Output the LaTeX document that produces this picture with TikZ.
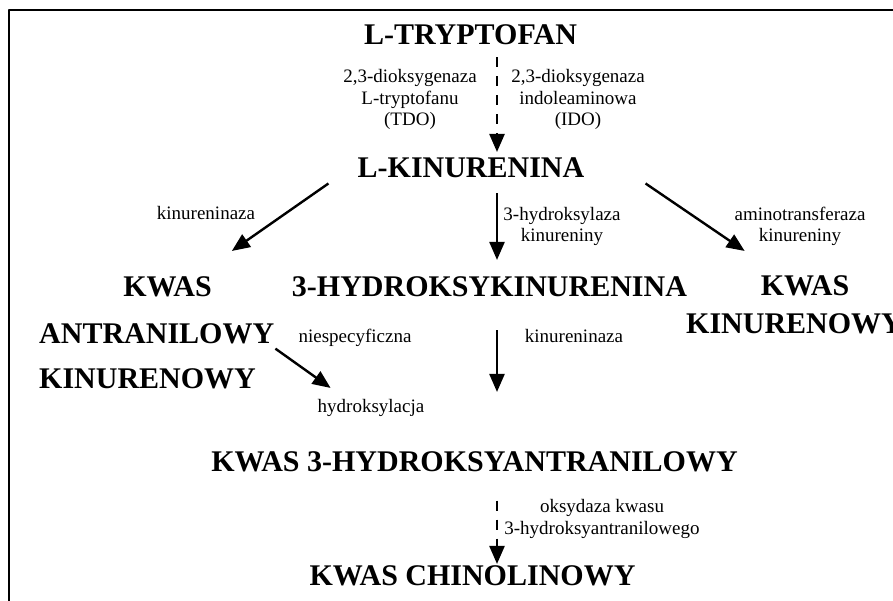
\documentclass[tikz,border=0pt]{standalone}
\usepackage{fontspec}
\setmainfont{Liberation Serif}
\usetikzlibrary{arrows.meta}
\begin{document}
\begin{tikzpicture}[x=1pt,y=-1pt,>={Triangle[length=18pt,width=15pt]},line join=round,
	compound/.style={font=\fontsize{30}{36}\selectfont\bfseries,inner sep=0pt,anchor=base},
	enzyme/.style={font=\fontsize{19}{21.5}\selectfont,inner sep=0pt,anchor=base,align=center},
	conv/.style={->,line width=2.4pt},
	dconv/.style={conv,dash pattern=on 10pt off 9pt}]
	\useasboundingbox (0,0) rectangle (893,601);
	\draw[line width=1.3pt] (9,601)--(9,10)--(893,10);
	\coordinate (axis) at (497,0);
	% compounds
	\node[compound] (trp) at (470.5,45) {L-TRYPTOFAN};
	\node[compound] (kyn) at (471,178) {L-KINURENINA};
	\node[compound] (hyk) at (489.5,297) {3-HYDROKSYKINURENINA};
	\node[compound] (kwasL) at (167.5,297) {KWAS};
	\node[compound,anchor=base west] (antr) at (39,343) {ANTRANILOWY};
	\node[compound,anchor=base west] (kinL) at (39,388) {KINURENOWY};
	\node[compound] (kwasR) at (805,295) {KWAS};
	\node[compound,anchor=base west] (kinR) at (686,333) {KINURENOWY};
	\node[compound] (hant) at (474.5,471) {KWAS 3-HYDROKSYANTRANILOWY};
	\node[compound] (chin) at (472.5,585) {KWAS CHINOLINOWY};
	% enzymes (base = last line)
	\node[enzyme] (tdo) at (410,126) {2,3-dioksygenaza\\L-tryptofanu\\(TDO)};
	\node[enzyme] (ido) at (578,126) {2,3-dioksygenaza\\indoleaminowa\\(IDO)};
	\node[enzyme] (kynase1) at (206,220) {kinureninaza};
	\node[enzyme] (kmo) at (562,242) {3-hydroksylaza\\kinureniny};
	\node[enzyme] (kat) at (800,242) {aminotransferaza\\kinureniny};
	\node[enzyme] (nonspec) at (355,342) {niespecyficzna};
	\node[enzyme] (kynase2) at (574,342) {kinureninaza};
	\node[enzyme] (hydrox) at (371,412) {hydroksylacja};
	\node[enzyme] (haao) at (602,534) {oksydaza kwasu\\3-hydroksyantranilowego};
	% conversions
	\draw[dconv,shorten <=12pt,shorten >=6pt] (trp.south -| axis)--(kyn.north -| axis);
	\draw[conv,shorten <=15pt,shorten >=17pt] (kyn.south -| axis)--(hyk.north -| axis);
	\draw[conv,shorten <=33pt,shorten >=59pt] (hyk.south -| axis)--(hant.north -| axis);
	\draw[dconv,shorten <=29pt,shorten >=1pt] (hant.south -| axis)--(chin.north -| axis);
	\draw[conv] ([shift={(-29,5)}]kyn.south west)--([shift={(20,-26)}]kwasL.north east);
	\draw[conv] ([shift={(61,5)}]kyn.south east)--([shift={(-16,-24)}]kwasR.north west);
	\draw[conv] ([shift={(1,5)}]antr.south east)--([shift={(119.5,-63)}]hant.north west);
\end{tikzpicture}
\end{document}
